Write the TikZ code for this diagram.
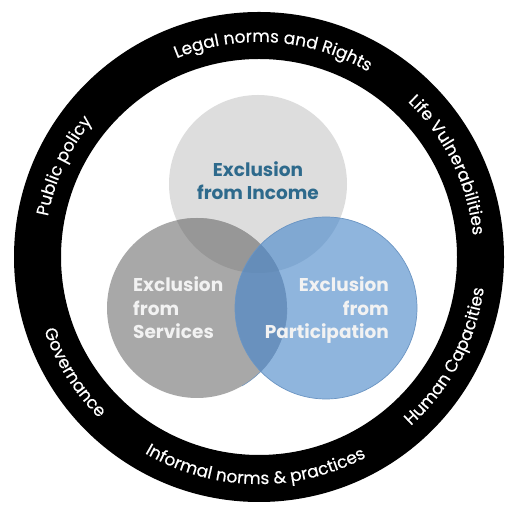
\documentclass[tikz,border=0pt]{standalone}
\usepackage{fontspec}
\setmainfont{Poppins}
\newfontfamily\ringfam[FakeBold=0.4]{Poppins}
\usetikzlibrary{decorations.text}
\definecolor{cTop}{HTML}{DDDDDD}
\definecolor{cLeft}{HTML}{A8A8A8}
\definecolor{cRight}{HTML}{8FB5DD}
\definecolor{cTL}{HTML}{979797}
\definecolor{cTR}{HTML}{80A8D2}
\definecolor{cLR}{HTML}{6991BE}
\definecolor{cTLR}{HTML}{658DB9}
\definecolor{cRightEdge}{HTML}{6B95C3}
\definecolor{cIncome}{HTML}{2E6A8C}
\definecolor{cWhiteText}{HTML}{F2F2F2}
\newcommand\ringfont{\ringfam\fontsize{17}{20}\selectfont}
\newcommand\vennfont{\fontsize{18.5}{23.5}\selectfont\bfseries}
\begin{document}
\begin{tikzpicture}[x=1pt,y=1pt,
  topring/.style={decorate, decoration={text along path, text align=center, text color=white, text={|\ringfont|#1}}},
  vennlabel/.style={font=\vennfont, inner sep=0pt}]
\useasboundingbox (0,0) rectangle (508,505);
\fill[white] (0,0) rectangle (508,505);
\coordinate (C) at (259,248);
\coordinate (cT) at (258,321);
\coordinate (cL) at (197,197);
\coordinate (cR) at (326,197);
% ring
\fill[black, even odd rule] (C) circle[radius=245] (C) circle[radius=198];
% ring texts, upper half (clockwise, tops outward)
\path[topring={Public policy}] (C) ++(215:215) arc[start angle=215, end angle=95, radius=215];
\path[topring={Legal norms and Rights}] (C) ++(156:215) arc[start angle=156, end angle=16, radius=215];
\path[topring={Life Vulnerabilities}] (C) ++(86:215) arc[start angle=86, end angle=-34, radius=215];
% ring texts, lower half (counterclockwise, tops inward)
\path[topring={Human Capacities}] (C) ++(-88:227) arc[start angle=-88, end angle=32, radius=227];
\path[topring={Informal norms {\&} practices}] (C) ++(-161:227) arc[start angle=-161, end angle=-21, radius=227];
\path[topring={Governance}] (C) ++(-208:227) arc[start angle=-208, end angle=-88, radius=227];
% venn fills
\fill[cTop] (cT) circle[radius=89];
\fill[cLeft] (cL) circle[radius=90];
\fill[cRight] (cR) circle[radius=91];
\begin{scope}
  \clip (cT) circle[radius=89];
  \fill[cTL] (cL) circle[radius=90];
  \fill[cTR] (cR) circle[radius=91];
\end{scope}
\begin{scope}
  \clip (cL) circle[radius=90];
  \fill[cLR] (cR) circle[radius=91];
  \clip (cR) circle[radius=91];
  \fill[cTLR] (cT) circle[radius=89];
\end{scope}
\draw[cRightEdge, line width=0.7pt] (cR) circle[radius=91];
\draw[cLR, line width=0.5pt] (cL) ++(0:90) arc[start angle=0, end angle=-60, radius=90];
% venn labels (base anchor = baseline of last line)
\node[vennlabel, align=center, text=cIncome, anchor=base] (income) at (258,305) {Exclusion\\from Income};
\node[vennlabel, align=left, text=cWhiteText, anchor=base west] (services) at (133,166) {Exclusion\\from\\Services};
\node[vennlabel, align=right, text=cWhiteText, anchor=base east] (participation) at (389,166) {Exclusion\\from\\Participation};
\end{tikzpicture}
\end{document}
